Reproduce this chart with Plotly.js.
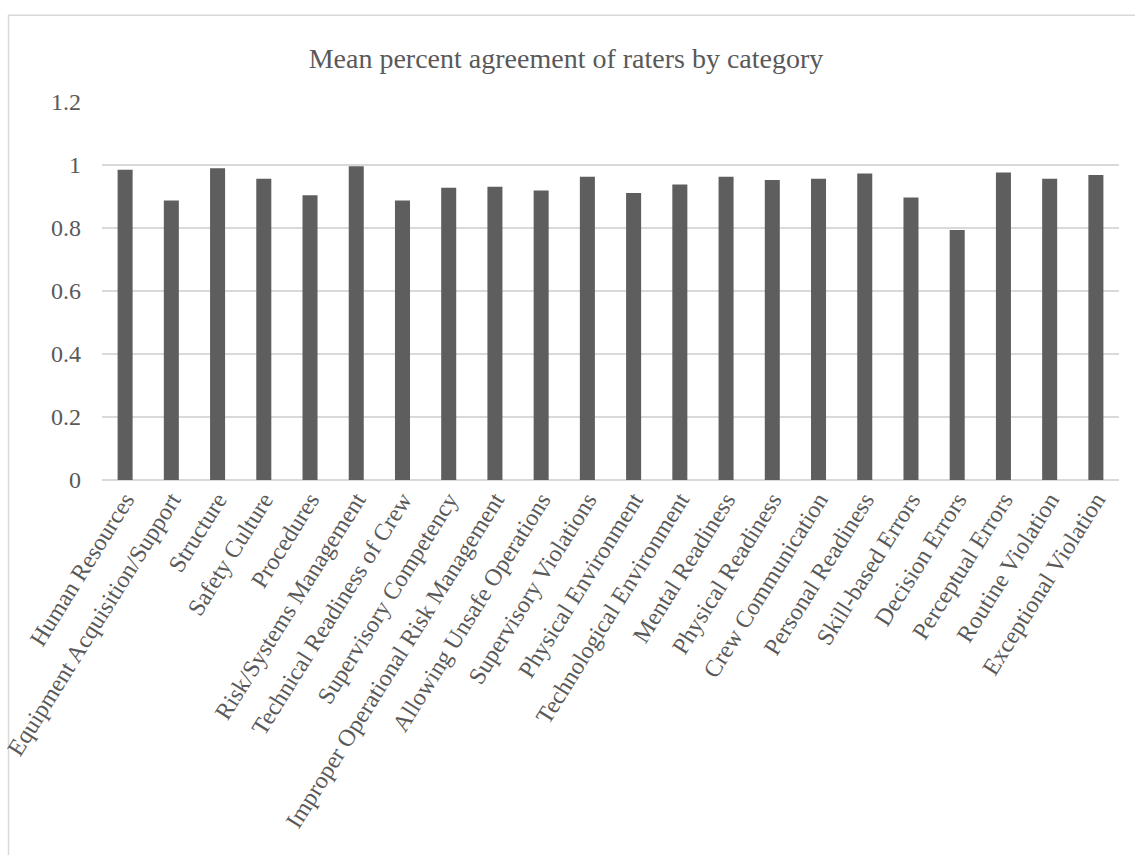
<!DOCTYPE html>
<html>
<head>
<meta charset="utf-8">
<script src="https://cdn.plot.ly/plotly-3.0.1.min.js"></script>
<style>html,body{margin:0;padding:0;background:#fff;}#chart{width:1135px;height:855px;}</style>
</head>
<body>
<div id="chart"></div>
<script>
var categories = [
  "Human Resources", "Equipment Acquisition/Support", "Structure", "Safety Culture",
  "Procedures", "Risk/Systems Management", "Technical Readiness of Crew",
  "Supervisory Competency", "Improper Operational Risk Management",
  "Allowing Unsafe Operations", "Supervisory Violations", "Physical Environment",
  "Technological Environment", "Mental Readiness", "Physical Readiness",
  "Crew Communication", "Personal Readiness", "Skill-based Errors",
  "Decision Errors", "Perceptual Errors", "Routine Violation", "Exceptional Violation"
];
var values = [
  0.985, 0.887, 0.990, 0.956, 0.904, 0.996, 0.887, 0.928, 0.931, 0.919, 0.963,
  0.911, 0.938, 0.963, 0.952, 0.956, 0.973, 0.897, 0.794, 0.976, 0.956, 0.968
];
var yTicks = [0, 0.2, 0.4, 0.6, 0.8, 1, 1.2];
var yTickLabels = ["0", "0.2", "0.4", "0.6", "0.8", "1", "1.2"];
var titleText = "Mean percent agreement of raters by category";

var textColor = "#595959";
var fontFam = "'Liberation Serif', 'Times New Roman', serif";

var trace = {
  type: "bar",
  x: categories,
  y: values,
  marker: {color: "#5e5e5e", line: {width: 0}},
  hoverinfo: "x+y"
};

var layout = {
  width: 1135, height: 855,
  margin: {l: 102, r: 16, t: 102, b: 375, pad: 0},
  paper_bgcolor: "#ffffff",
  plot_bgcolor: "#ffffff",
  showlegend: false,
  bargap: 0.675,
  font: {family: fontFam, color: textColor, size: 22},
  title: {
    text: titleText,
    font: {family: fontFam, size: 28, color: textColor},
    x: 566 / 1135, xref: "container", xanchor: "center",
    y: 1 - 58 / 855, yref: "container", yanchor: "middle"
  },
  xaxis: {
    type: "category",
    tickangle: -58,
    tickfont: {family: fontFam, size: 24, color: textColor},
    showgrid: false,
    showline: false,
    zeroline: false,
    ticks: "",
    automargin: false
  },
  yaxis: {
    range: [0, 1.2],
    tickvals: yTicks,
    ticktext: yTickLabels,
    tickfont: {family: fontFam, size: 24, color: textColor},
    showgrid: true,
    gridcolor: "#d9d9d9",
    gridwidth: 1.3,
    zeroline: true,
    zerolinecolor: "#d9d9d9",
    zerolinewidth: 1.3,
    showline: false,
    ticks: "",
    ticklen: 0,
    ticklabelstandoff: 20,
    automargin: false
  },
  shapes: [{
    type: "rect", xref: "paper", yref: "paper",
    x0: (8.5 - 102) / 1017, x1: 1.05,
    y0: -1.2, y1: (480 - 15) / 378.3,
    line: {color: "#d9d9d9", width: 1.5},
    fillcolor: "rgba(0,0,0,0)",
    layer: "below"
  }]
};

Plotly.newPlot("chart", [trace], layout, {displayModeBar: false, staticPlot: true});
</script>
</body>
</html>
